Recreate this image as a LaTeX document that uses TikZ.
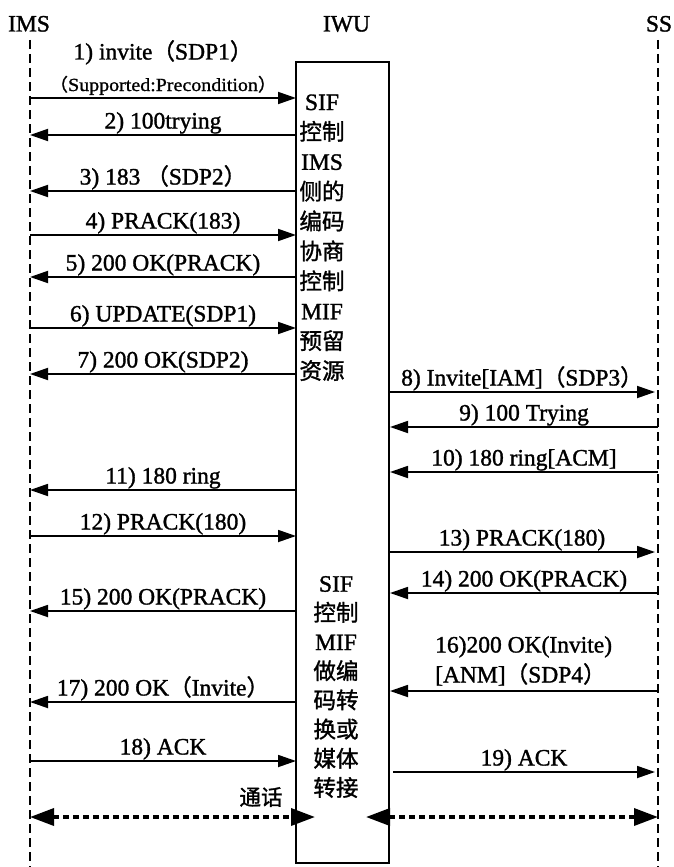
\documentclass[tikz,border=0pt]{standalone}
\usepackage{fontspec}
\setmainfont{Liberation Serif}[FakeBold=1.3]
\newfontfamily\cjk[Scale=0.96,FakeBold=1.3]{Noto Sans CJK SC}
\newfontfamily\smallserif[FakeBold=1.1,FakeStretch=1.08]{Liberation Serif}
\newfontfamily\smallcjk[Scale=0.96,FakeBold=1.1,FakeStretch=1.08]{Noto Sans CJK SC}
\usetikzlibrary{arrows.meta}
\newcommand\fwlp{{\cjk （}}
\newcommand\fwrp{{\cjk ）}}
\newcommand\mymsg[5]{% id, y, from x, to x, label
  \coordinate (#1a) at (#3,#2);
  \coordinate (#1b) at (#4,#2);
  \draw[msg] (#1a) -- node[lbl, midway, yshift=6.5pt] (#1t) {#5} (#1b);
}
\begin{document}
\begin{tikzpicture}[x=1pt,y=-1pt,
  lbl/.style={font=\fontsize{23.5}{28}\selectfont, inner sep=0pt, anchor=base},
  smlbl/.style={font=\fontsize{18.5}{22}\selectfont\smallserif, inner sep=0pt, anchor=base},
  hdr/.style={font=\fontsize{23.5}{28}\selectfont, inner sep=0pt, anchor=base},
  boxtxt/.style={align=center, inner sep=0pt},
  msg/.style={line width=1.8pt, -{Triangle[length=18pt,width=12pt]}},
  life/.style={line width=1.8pt, dash pattern=on 9pt off 5pt},
  talk/.style={line width=3.5pt, dash pattern=on 6pt off 4pt,
    {Triangle[length=24pt,width=17pt]}-{Triangle[length=24pt,width=17pt]}}]
\useasboundingbox (0,0) rectangle (673,867);

% headers
\node[hdr] (imsl) at (29,31.5) {IMS};
\node[hdr] (iwul) at (346.5,31.5) {IWU};
\node[hdr] (ssl) at (659,31.5) {SS};

% lifelines
\coordinate (imsTop) at (30,40);
\coordinate (imsBot) at (30,867);
\coordinate (ssTop) at (658,40);
\coordinate (ssBot) at (658,867);
\draw[life] (imsTop) -- (imsBot);
\draw[life] (ssTop) -- (ssBot);

% IWU box
\node[draw, line width=1.8pt, minimum width=93pt, minimum height=801pt, inner sep=0pt] (iwubox) at (342.5,462.5) {};

\node[boxtxt, font=\fontsize{23.5}{29.9}\selectfont] (blk1) at (322,237.7)
  {SIF\\{\cjk 控制}\\IMS\\{\cjk 侧的}\\{\cjk 编码}\\{\cjk 协商}\\{\cjk 控制}\\MIF\\{\cjk 预留}\\{\cjk 资源}};
\node[boxtxt, font=\fontsize{23.5}{29.2}\selectfont] (blk2) at (336,687)
  {SIF\\{\cjk 控制}\\MIF\\{\cjk 做编}\\{\cjk 码转}\\{\cjk 换或}\\{\cjk 媒体}\\{\cjk 转接}};

% message 1 (two-line label)
\coordinate (m1a) at (30,98);
\coordinate (m1b) at (296,98);
\draw[msg] (m1a) -- node[smlbl, midway, yshift=7pt] (m1t) {{\smallcjk （}Supported:Precondition{\smallcjk ）}}
  node[lbl, midway, yshift=38.5pt] (m1u) {1) invite\fwlp SDP1\fwrp} (m1b);

% left side
\mymsg{m2}{135}{296}{30}{2) 100trying}
\mymsg{m3}{191}{296}{30}{3) 183 \fwlp SDP2\fwrp}
\mymsg{m4}{235}{30}{296}{4) PRACK(183)}
\mymsg{m5}{277}{296}{30}{5) 200 OK(PRACK)}
\mymsg{m6}{328}{30}{296}{6) UPDATE(SDP1)}
\mymsg{m7}{374}{296}{30}{7) 200 OK(SDP2)}
\mymsg{m11}{490}{296}{30}{11) 180 ring}
\mymsg{m12}{536}{30}{296}{12) PRACK(180)}
\mymsg{m15}{611}{296}{30}{15) 200 OK(PRACK)}
\mymsg{m17}{702}{296}{30}{17) 200 OK\fwlp Invite\fwrp}
\mymsg{m18}{761}{30}{296}{18) ACK}

% right side
\mymsg{m8}{392}{389}{655}{8) Invite[IAM]\fwlp SDP3\fwrp}
\mymsg{m9}{427}{658}{390}{9) 100 Trying}
\mymsg{m10}{472}{658}{390}{10) 180 ring[ACM]}
\mymsg{m13}{552}{389}{655}{13) PRACK(180)}
\mymsg{m14}{593}{658}{390}{14) 200 OK(PRACK)}
\mymsg{m19}{772}{393}{655}{19) ACK}

% message 16 (two-line label)
\coordinate (m16a) at (658,691);
\coordinate (m16b) at (390,691);
\draw[msg] (m16a) -- (m16b);
\node[lbl, anchor=base west] (m16t) at (435,652.5) {16)200 OK(Invite)};
\node[lbl, anchor=base west] (m16u) at (435,682.5) {[ANM]\fwlp SDP4\fwrp};

% talk
\node[font=\fontsize{22.5}{26}\selectfont\cjk, inner sep=0pt] (talkl) at (261,797) {通话};
\coordinate (t1a) at (30,817);
\coordinate (t1b) at (315,817);
\coordinate (t2a) at (366,817);
\coordinate (t2b) at (658,817);
\draw[talk] (t1a) -- (t1b);
\draw[talk] (t2a) -- (t2b);
\end{tikzpicture}
\end{document}
